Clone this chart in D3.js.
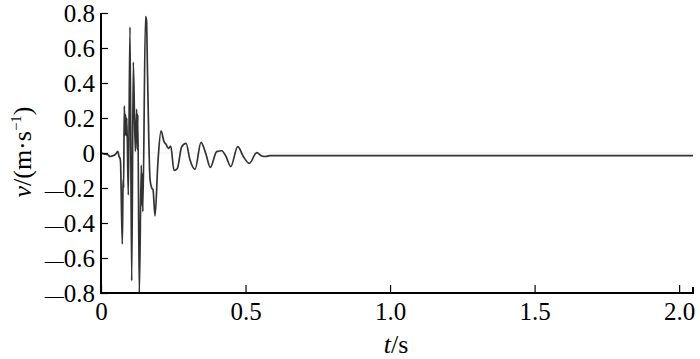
<!DOCTYPE html>
<html>
<head>
<meta charset="utf-8">
<script src="https://cdn.jsdelivr.net/npm/d3@7"></script>
<style>
  body { margin: 0; background: #fff; }
  svg { display: block; }
  .axis text { font-family: "Liberation Serif", "Times New Roman", serif; font-size: 25px; fill: #000; }
  .axis path, .axis line { stroke: #000; }
  .title { font-family: "Liberation Serif", "Times New Roman", serif; font-size: 26px; fill: #000; }
</style>
</head>
<body>
<svg class="mainSvg" width="700" height="359"></svg>
<script>
// velocity record: time (s) and v (m/s)
var timeS = [0, 0.0104, 0.0242, 0.031, 0.0415, 0.0484, 0.0536, 0.0588, 0.0623, 0.0657, 0.0675,
  0.0737, 0.0761, 0.0772, 0.0782, 0.0806, 0.083, 0.0848, 0.0875, 0.0893, 0.0945,
  0.1003, 0.1062, 0.1118, 0.1187, 0.1235, 0.1256, 0.1273, 0.1325, 0.1394, 0.1419,
  0.1433, 0.1446, 0.154, 0.1574, 0.161, 0.1696, 0.1754, 0.18, 0.1869, 0.197,
  0.2076, 0.218, 0.225, 0.2329, 0.2412, 0.2526, 0.264, 0.2792, 0.2941, 0.308,
  0.3253, 0.346, 0.3623, 0.3782, 0.4003, 0.4176, 0.4325, 0.4488, 0.473, 0.4924,
  0.5131, 0.5388, 0.556, 0.5675, 0.5848, 2.048];
var velocity = [0, -0.005, -0.01, -0.02, -0.015, -0.01, 0.0, 0.01, -0.02, -0.03, -0.05,
  -0.52, -0.2, -0.15, -0.2, 0.27, 0.1, 0.22, 0.1, 0.2, -0.24,
  0.72, -0.73, 0.52, 0.01, 0.25, 0.02, 0.22, -0.80, -0.07, -0.3,
  -0.12, -0.335, 0.78, 0.76, 0.45, -0.15, -0.20, -0.21, -0.36, -0.05,
  0.127, 0.065, 0.05, 0.027, 0.04, -0.10, -0.088, 0.036, 0.055, -0.04,
  -0.093, 0.061, -0.002, -0.082, 0.008, 0.013, -0.02, -0.078, 0.036, -0.02,
  -0.059, 0.002, -0.017, -0.02, -0.015, -0.015];

var xTicks = [0, 0.5, 1.0, 1.5, 2.0];
var xTickLabels = ["0", "0.5", "1.0", "1.5", "2.0"];
var yTicks = [0.8, 0.6, 0.4, 0.2, 0, -0.2, -0.4, -0.6, -0.8];
var yTickLabels = ["0.8", "0.6", "0.4", "0.2", "0", "\u22120.2", "\u22120.4", "\u22120.6", "\u22120.8"];

var svg = d3.select('.mainSvg');
var plotLeft = 101, plotRight = 693, plotTop = 13, plotBottom = 293;

var xScale = d3.scaleLinear().domain([0, 2.048]).range([plotLeft, plotRight]);
var yScale = d3.scaleLinear().domain([-0.8, 0.8]).range([plotBottom, plotTop]);

var points = timeS.map(function(t, i){ return [t, velocity[i]]; });

// faint zero line
svg.append('line')
  .attr('x1', plotLeft).attr('x2', plotRight)
  .attr('y1', yScale(0)).attr('y2', yScale(0))
  .attr('stroke', '#eeeeee').attr('stroke-width', 1);

// signal
var lineGenerator = d3.line()
  .curve(d3.curveMonotoneX)
  .x(function(d){ return xScale(d[0]); })
  .y(function(d){ return yScale(d[1]); });

svg.append('path')
  .datum(points)
  .attr('fill', 'none')
  .attr('stroke', '#333')
  .attr('stroke-width', 1.7)
  .attr('stroke-linejoin', 'round')
  .attr('d', lineGenerator);

// axes, ticks pointing inward
var xAxis = svg.append('g').classed('axis xAxis', true)
  .attr('transform', 'translate(0,' + plotBottom + ')')
  .call(d3.axisTop(xScale).tickValues(xTicks).tickSize(8).tickSizeOuter(0)
    .tickFormat(function(d, i){ return xTickLabels[i]; }));
xAxis.select('.domain').remove();
xAxis.selectAll('line').attr('stroke-width', 1.2);
xAxis.selectAll('text').attr('y', 27).attr('dy', null);

var yAxis = svg.append('g').classed('axis yAxis', true)
  .attr('transform', 'translate(' + plotLeft + ',0)')
  .call(d3.axisRight(yScale).tickValues(yTicks).tickSize(7).tickSizeOuter(0)
    .tickFormat(function(d, i){ return yTickLabels[i]; }));
yAxis.select('.domain').remove();
yAxis.selectAll('line').attr('stroke-width', 1.2);
yAxis.selectAll('text').attr('x', -6).attr('text-anchor', 'end').attr('dy', '0.34em')
  .each(function(){
    // long thin dash for the minus, as in the source figure
    var label = d3.select(this).text();
    if (label.charAt(0) !== '\u2212') return;
    var el = d3.select(this).text('');
    el.append('tspan').attr('font-size', '19px').text('\u2014');
    el.append('tspan').text(label.slice(1));
  });

// frame lines
svg.append('path')
  .attr('d', 'M' + plotLeft + ',' + plotTop + 'V' + plotBottom + 'H' + plotRight + 'V' + (plotBottom - 6))
  .attr('fill', 'none').attr('stroke', '#000').attr('stroke-width', 2);

// axis titles
var xt = svg.append('text').attr('class', 'title')
  .attr('x', 396).attr('y', 353).attr('text-anchor', 'middle');
xt.append('tspan').attr('font-style', 'italic').text('t');
xt.append('tspan').text('/s');

var yt = svg.append('text').attr('class', 'title')
  .attr('transform', 'translate(31,152) rotate(-90)')
  .attr('text-anchor', 'middle');
yt.append('tspan').attr('font-style', 'italic').text('v');
yt.append('tspan').text('/(m\u00b7s');
yt.append('tspan').attr('font-size', '15px').attr('dy', '-10').text('\u22121');
yt.append('tspan').attr('dy', '10').text(')');
</script>
</body>
</html>
